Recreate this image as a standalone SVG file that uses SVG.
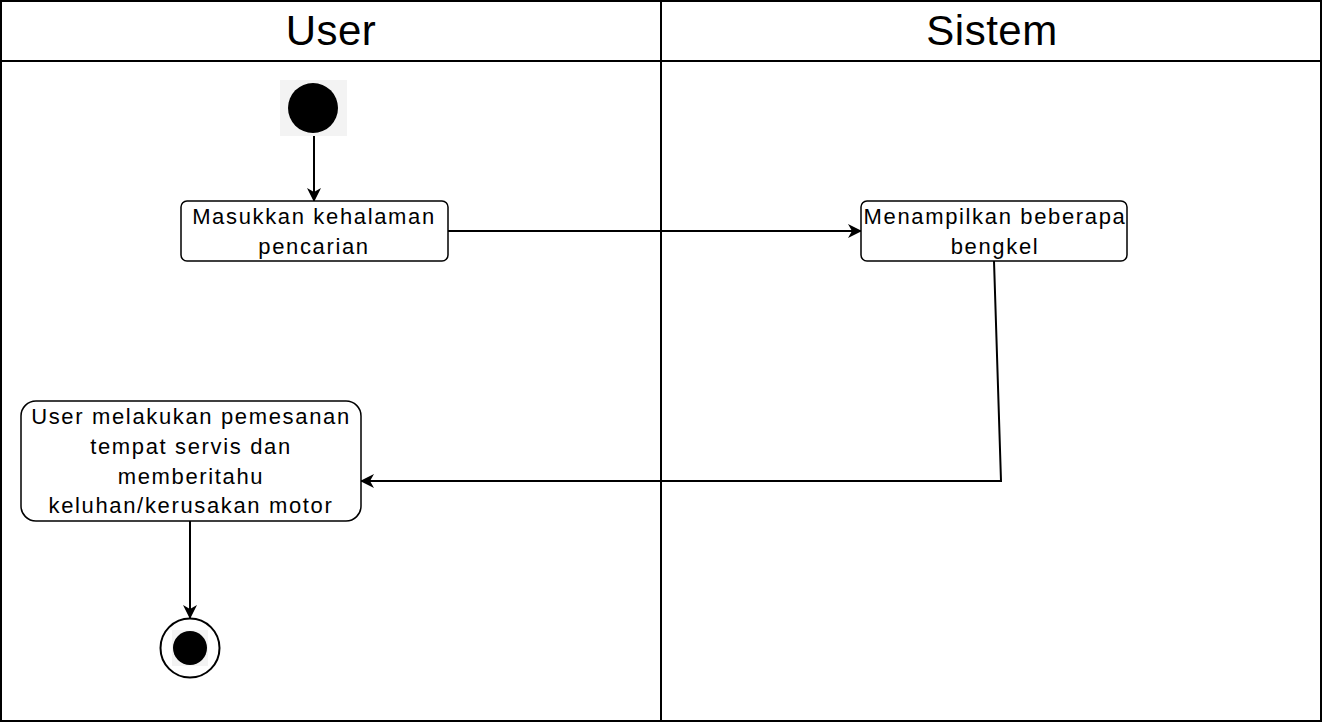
<svg xmlns="http://www.w3.org/2000/svg" width="1322" height="724" viewBox="0 0 1322 724">
<style>
.lane{fill:none;stroke:#000;stroke-width:2}
.node{fill:#fff;stroke:#000;stroke-width:1.5}
.t{font-family:"Liberation Sans",Arial,sans-serif;font-size:22px;letter-spacing:1.65px;fill:#000;text-anchor:middle}
.h{font-family:"Liberation Sans",Arial,sans-serif;font-size:42px;letter-spacing:0.5px;fill:#000;text-anchor:middle}
.e{fill:none;stroke:#000;stroke-width:2}
</style>
<defs>
<marker id="arr" viewBox="0 0 14 14" refX="13" refY="7" markerWidth="14" markerHeight="14" markerUnits="userSpaceOnUse" orient="auto">
<path d="M0,0 L14,7 L0,14 L4,7 Z" fill="#000"/>
</marker>
</defs>
<rect width="1322" height="724" fill="#fff"/>
<g id="swimlanes">
<rect class="lane" x="1" y="1" width="1320" height="720"/>
<line class="lane" x1="1" y1="61" x2="1321" y2="61"/>
<line class="lane" x1="661" y1="1" x2="661" y2="721"/>
<text class="h" x="331" y="45">User</text>
<text class="h" x="992" y="45">Sistem</text>
</g>
<g id="connectors">
<line class="e" x1="314" y1="133" x2="314" y2="201" marker-end="url(#arr)"/>
<line class="e" x1="448" y1="231" x2="861" y2="231" marker-end="url(#arr)"/>
<polyline class="e" points="994,261 1001,481 361,481" marker-end="url(#arr)"/>
<line class="e" x1="190" y1="521" x2="190" y2="618" marker-end="url(#arr)"/>
</g>
<g id="start">
<rect x="280" y="80" width="67" height="56" fill="#f3f3f3"/>
<circle cx="313" cy="108" r="25" fill="#000"/>
</g>
<g id="node1">
<rect class="node" x="181" y="201" width="267" height="60" rx="6"/>
<text class="t" x="314" y="224">Masukkan kehalaman</text>
<text class="t" x="314" y="254">pencarian</text>
</g>
<g id="node2">
<rect class="node" x="861" y="201" width="266" height="60" rx="6"/>
<text class="t" x="995" y="224">Menampilkan beberapa</text>
<text class="t" x="995" y="254">bengkel</text>
</g>
<g id="node3">
<rect class="node" x="21" y="401" width="340" height="120" rx="15"/>
<text class="t" x="191" y="424">User melakukan pemesanan</text>
<text class="t" x="191" y="454">tempat servis dan</text>
<text class="t" x="191" y="484">memberitahu</text>
<text class="t" x="191" y="513">keluhan/kerusakan motor</text>
</g>
<g id="end">
<circle cx="190" cy="648" r="29.5" fill="#fff" stroke="#000" stroke-width="2"/>
<rect x="172" y="630" width="36" height="36" fill="#f3f3f3"/>
<circle cx="190" cy="648" r="17" fill="#000"/>
</g>
</svg>
